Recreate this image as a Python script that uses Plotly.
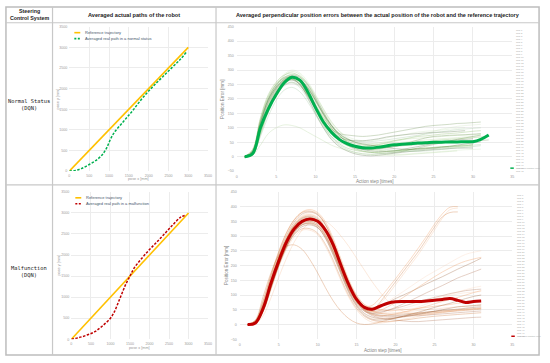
import plotly.graph_objects as go

W, H = 550, 363
def PX(x): return x / W
def PY(y): return 1 - y / H

# ---------------- data ----------------
ref_x = [0, 3000]
ref_y = [0, 3000]

normal_path_x = [0, 150, 300, 500, 700, 850, 950, 1050, 1150, 1300, 1450, 1600, 1800, 2000, 2200, 2400, 2600, 2800, 2950]
normal_path_y = [0, 15, 60, 160, 280, 420, 580, 800, 960, 1130, 1300, 1470, 1720, 1940, 2140, 2330, 2520, 2710, 2880]

malf_path_x = [0, 200, 400, 600, 800, 1000, 1100, 1200, 1300, 1400, 1500, 1600, 1800, 2000, 2200, 2400, 2600, 2800, 2900]
malf_path_y = [0, 40, 100, 180, 320, 500, 650, 870, 1100, 1320, 1500, 1680, 1920, 2130, 2320, 2520, 2720, 2900, 2940]

normal_avg = [0, 10, 100, 165, 215, 255, 275, 265, 225, 170, 120, 85, 60, 45, 36, 31, 30, 33, 37, 41, 43, 45, 47, 48, 50, 50, 51, 51, 52, 52, 60, 75]
malf_avg = [0, 5, 55, 140, 215, 280, 325, 350, 358, 350, 320, 270, 200, 135, 85, 58, 52, 62, 72, 77, 78, 78, 78, 80, 82, 85, 88, 82, 75, 78, 80]

normal_trials = [
    [0,20,110,190,245,280,295,285,250,200,150,110,80,60,50,45,45,48,52,56,60,62,64,66,68,70,72,74,75,76,78],
    [0,5,80,160,220,260,270,255,215,160,110,70,45,30,22,18,15,15,18,20,22,25,28,30,32,34,35,36,38,40],
    [0,15,120,200,250,275,280,260,220,170,125,95,80,75,72,70,72,75,80,85,90,95,100,105,108,110,112,115,116,118,120],
    [0,10,90,170,225,255,265,250,205,150,100,60,35,20,10,5,3,5,8,12,15,18,20,22,25,26,28,30,30,30],
    [0,25,130,210,255,285,300,290,260,215,165,120,90,70,60,55,55,60,65,70,75,80,85,88,90,92,95,98,100],
    [0,8,70,140,195,230,240,225,190,145,100,65,40,25,15,10,8,10,12,15,18,20,22,25,28,30,32,35,38,40,42],
    [0,5,40,80,100,110,108,100,85,70,55,40,30,22,15,10,8,6,5,5,6,8,10,12,14,16,18,20],
    [0,12,100,180,235,265,275,265,230,180,130,90,60,45,38,35,38,42,48,55,60,65,70,72,75,78,80,82,85,88,90],
    [0,18,115,195,240,265,270,250,210,165,120,85,60,45,35,30,28,30,32,35,38,40,42,44,46,48,50,52,54,55,56,58],
    [0,10,95,175,230,262,280,275,250,205,155,110,75,50,35,25,20,18,18,20,25,30,35,40,45,50,55,58,60,62],
    [0,20,125,205,250,270,275,258,222,178,135,100,75,60,52,48,45,45,48,52,58,65,72,80,88,95,100,105,108,110,112],
    [0,6,75,155,210,245,255,240,200,150,105,70,50,40,35,32,30,28,25,22,20,18,18,20,22,25,28,30,32,35,38],
    [0,14,105,185,238,270,285,280,255,212,165,122,88,65,50,42,40,42,45,48,50,52,55,58,60,62,64,66,68,70,72],
    [0,22,135,215,258,282,290,278,245,200,150,108,75,52,38,30,25,22,20,20,22,25,28,30,32,34,36,38,40,42],
    [0,9,85,165,222,258,272,268,240,195,145,100,65,42,28,20,15,12,12,14,18,24,30,36,42,48,54,60,65,70,75],
    [0,16,110,188,236,262,268,252,215,168,122,88,68,58,55,55,58,62,68,72,75,78,80,82,84,85,86,88,90],
    [0,12,98,178,232,266,282,278,252,208,160,115,80,55,40,30,22,15,10,8,8,10,12,14,16,18,20,22,24,25,26],
    [0,20,118,198,246,274,285,272,238,192,145,105,78,62,55,52,52,55,58,62,66,70,74,78,82,86,90,94,96,98,100],
    [0,7,78,158,215,252,268,262,235,190,140,95,60,38,25,18,15,15,16,18,20,22,24,26,28,30,32,34,35,36],
    [0,24,128,206,250,272,276,260,225,180,135,100,72,55,45,40,38,38,40,42,45,48,50,52,55,58,60,62,64,66,68,70],
    [0,12,95,170,218,248,258,245,212,168,122,85,58,40,30,25,24,26,30,35,42,50,58,65,70,72,74,75,76,78,80],
    [0,18,120,198,242,268,278,268,238,195,148,108,80,62,50,44,40,36,32,28,26,25,26,28,30,33,36,40,44,48,52],
]

malf_trials = [
    [0,5,50,130,210,275,320,345,350,340,305,250,185,125,80,55,50,70,100,135,170,205,240,280,320,360,390,395],
    [0,8,60,145,225,290,335,360,365,352,315,258,190,128,85,62,65,90,122,155,190,225,262,300,340,375,398,400],
    [0,3,45,120,200,265,312,338,345,335,300,245,180,120,75,50,48,75,110,145,180,215,250,290,330,365,380,382],
    [0,6,58,140,218,282,328,352,360,350,318,265,198,135,88,60,55,62,75,88,100,112,125,138,150,162,175,188,200,212,225],
    [0,10,70,155,235,300,345,370,380,372,340,285,215,148,98,68,60,65,78,95,112,130,148,165,180,195,210,225,238,245,250],
    [0,4,50,128,205,268,315,340,345,335,300,245,178,115,70,45,38,40,48,58,70,82,95,108,120,132,145,158,168,178,188],
    [0,7,55,138,215,278,322,348,355,345,312,260,195,132,85,55,42,38,38,40,42,45,48,50,52,55,58,60,62,65,68],
    [0,12,78,165,245,310,355,382,390,380,348,292,222,152,100,68,55,50,48,48,50,52,55,58,62,65,68,72,75,78,80],
    [0,5,48,125,202,262,305,325,325,310,272,218,155,98,55,28,15,10,10,12,15,18,22,25,28,30,32,34,36,38,40],
    [0,9,65,148,228,292,338,362,368,358,322,265,195,130,82,52,38,32,30,30,32,35,38,42,45,48,50,52,55,58,60],
    [0,6,52,132,210,272,318,342,348,338,305,252,188,125,78,48,32,25,22,22,25,28,32,36,40,44,48,52,56,60,65],
    [0,11,72,158,238,302,348,375,382,372,338,282,212,145,95,62,48,45,48,55,62,70,78,85,92,98,105,110,115,118,120],
    [0,3,42,118,195,255,298,320,320,305,265,210,148,92,50,22,8,5,8,12,18,22,28,32,36,40,44,48,50,52,55],
    [0,8,62,145,225,288,332,355,360,350,315,258,190,125,78,48,35,30,32,36,42,48,55,62,70,78,85,92,100,108,115],
    [0,15,95,175,235,265,270,255,220,175,125,80,45,20,5,0,2,8,15,22,28,32,35,38,40,42,44,46,48,50,52],
    [0,5,50,130,208,270,315,338,342,330,292,235,170,108,62,32,18,15,18,22,28,35,42,50,58,65,72,80,88,95,100],
    [0,10,68,152,232,296,342,368,375,365,330,272,202,135,85,55,42,40,42,48,55,62,70,78,86,94,102,110,118,125,130],
    [0,7,56,136,214,276,320,344,350,340,306,250,185,122,76,46,30,22,18,15,12,10,10,12,14,16,18,20,22,24,25],
    [0,2,30,90,160,225,280,320,345,355,350,330,300,265,225,185,145,110,80,60,45,38,35,35,38,42,45,48,50,52,55],
    [0,9,66,150,230,294,340,365,372,362,326,268,198,132,84,54,44,48,60,75,92,110,128,145,162,178,192,205,215,222,228],
    [0,13,82,168,248,312,356,380,385,375,340,282,210,142,92,60,45,38,35,35,36,38,40,42,44,46,48,50,52,54,56],
    [0,4,46,124,200,262,308,332,338,328,295,240,175,112,66,38,25,20,20,22,26,30,35,40,45,50,55,60,62,64,66],
    [0,6,54,135,212,275,318,340,344,332,296,240,172,110,64,36,22,18,22,30,40,50,60,70,80,90,98,104,108,110,112],
    [0,9,64,148,226,290,334,358,364,354,320,264,196,130,82,50,34,28,26,26,28,30,30,32,34,36,38,40,42,44,46],
]

n_legend_entries = 48
legend_labels = ["Trial %d" % (i + 1) for i in range(n_legend_entries)]

path_ticks = [0, 500, 1000, 1500, 2000, 2500, 3000, 3500]
err_yticks = [-50, 0, 50, 100, 150, 200, 250, 300, 350, 400, 450]
err_xticks = [0, 5, 10, 15, 20, 25, 30, 35]

# ---------------- figure ----------------
fig = go.Figure()

GREEN_SHADES = ['#A9D18E', '#70AD47', '#548235', '#375623', '#C5E0B4', '#8FBC8F']
RED_SHADES = ['#F4B183', '#ED7D31', '#C55A11', '#843C0C', '#F8CBAD', '#A0522D']

# path charts
fig.add_trace(go.Scatter(x=ref_x, y=ref_y, mode='lines', line=dict(color='#FFC000', width=1.6),
                         xaxis='x', yaxis='y', showlegend=False))
fig.add_trace(go.Scatter(x=normal_path_x, y=normal_path_y, mode='lines', line=dict(color='#00B050', width=1.5, dash='2.5px,1.5px', shape='spline'),
                         xaxis='x', yaxis='y', showlegend=False))
fig.add_trace(go.Scatter(x=ref_x, y=ref_y, mode='lines', line=dict(color='#FFC000', width=1.6),
                         xaxis='x3', yaxis='y3', showlegend=False))
fig.add_trace(go.Scatter(x=malf_path_x, y=malf_path_y, mode='lines', line=dict(color='#C00000', width=1.5, dash='2.5px,1.5px', shape='spline'),
                         xaxis='x3', yaxis='y3', showlegend=False))

# error charts
for i, tr in enumerate(normal_trials):
    fig.add_trace(go.Scatter(x=list(range(1, len(tr) + 1)), y=tr, mode='lines',
                             line=dict(color=GREEN_SHADES[i % 6], width=0.6, shape='spline'), opacity=0.45,
                             xaxis='x2', yaxis='y2', showlegend=False))
fig.add_trace(go.Scatter(x=list(range(1, len(normal_avg) + 1)), y=normal_avg, mode='lines',
                         line=dict(color='#00B050', width=3, shape='spline'),
                         xaxis='x2', yaxis='y2', showlegend=False))
for i, tr in enumerate(malf_trials):
    fig.add_trace(go.Scatter(x=list(range(1, len(tr) + 1)), y=tr, mode='lines',
                             line=dict(color=RED_SHADES[i % 6], width=0.6, shape='spline'), opacity=0.45,
                             xaxis='x4', yaxis='y4', showlegend=False))
fig.add_trace(go.Scatter(x=list(range(1, len(malf_avg) + 1)), y=malf_avg, mode='lines',
                         line=dict(color='#C00000', width=3, shape='spline'),
                         xaxis='x4', yaxis='y4', showlegend=False))

TICKF = dict(family='Liberation Sans', size=3.6, color='#9a9a9a')
GRID = '#ececec'
common = dict(showgrid=True, gridcolor=GRID, gridwidth=0.6, zeroline=False, showline=False,
              tickfont=TICKF, ticks='', fixedrange=True)

fig.update_layout(
    width=W, height=H, margin=dict(l=0, r=0, t=0, b=0),
    paper_bgcolor='white', plot_bgcolor='white', showlegend=False,
    xaxis=dict(domain=[PX(69), PX(209)], range=[0, 3500], tickvals=path_ticks, anchor='y', ticklabelstandoff=1, **common),
    yaxis=dict(domain=[PY(171), PY(25)], range=[0, 3500], tickvals=path_ticks, anchor='x', ticklabelstandoff=1, **common),
    xaxis2=dict(domain=[PX(238), PX(516)], range=[0, 35], tickvals=err_xticks, anchor='y2', ticklabelstandoff=2, **common),
    yaxis2=dict(domain=[PY(171), PY(25)], range=[-50, 450], tickvals=err_yticks, anchor='x2', ticklabelstandoff=2, **common),
    xaxis3=dict(domain=[PX(71), PX(209)], range=[0, 3500], tickvals=path_ticks, anchor='y3', ticklabelstandoff=1, **common),
    yaxis3=dict(domain=[PY(341), PY(192)], range=[0, 3500], tickvals=path_ticks, anchor='x3', ticklabelstandoff=1, **common),
    xaxis4=dict(domain=[PX(241), PX(516)], range=[0, 35], tickvals=err_xticks, anchor='y4', ticklabelstandoff=2, **common),
    yaxis4=dict(domain=[PY(341), PY(192)], range=[-50, 450], tickvals=err_yticks, anchor='x4', ticklabelstandoff=2, **common),
)

shapes = []
BORDER = '#c8c8c8'
def hline(y, x0=5, x1=543, w=1.2):
    shapes.append(dict(type='line', xref='paper', yref='paper', x0=PX(x0), x1=PX(x1), y0=PY(y), y1=PY(y),
                       line=dict(color=BORDER, width=w)))
def vline(x, y0=5, y1=357, w=1.2):
    shapes.append(dict(type='line', xref='paper', yref='paper', x0=PX(x), x1=PX(x), y0=PY(y0), y1=PY(y1),
                       line=dict(color=BORDER, width=w)))
shapes.append(dict(type='rect', xref='paper', yref='paper', x0=PX(5), x1=PX(543), y0=PY(357), y1=PY(5),
                   line=dict(color='#bdbdbd', width=1.5)))
hline(21)
hline(185)
vline(52)
vline(217)

annotations = []
def ann(text, x, y, size, color='#222', family='Liberation Sans', bold=False, angle=0, xanchor='center', yanchor='middle', align='center'):
    if bold:
        text = '<b>' + text + '</b>'
    annotations.append(dict(text=text, x=PX(x), y=PY(y), xref='paper', yref='paper', showarrow=False,
                            font=dict(size=size, color=color, family=family), textangle=angle,
                            xanchor=xanchor, yanchor=yanchor, align=align))

# header
ann('Steering<br>Control System', 28.5, 13, 5.3, bold=True)
ann('Averaged actual paths of the robot', 134.5, 13, 5.6, bold=True)
ann('Averaged perpendicular position errors between the actual position of the robot and the reference trajectory', 380, 13, 5.5, bold=True)
# row labels
ann('Normal Status<br>(DQN)', 28.5, 104, 5.4, family='DejaVu Sans Mono', color='#1a1a1a')
ann('Malfunction<br>(DQN)', 28.5, 272, 5.4, family='DejaVu Sans Mono', color='#1a1a1a')

# axis titles
ann('pose x [mm]', 139, 179, 3.8, color='#9a9a9a')
ann('pose y [mm]', 57, 98, 3.8, color='#9a9a9a', angle=-90)
ann('pose x [mm]', 140, 350, 3.8, color='#9a9a9a')
ann('pose y [mm]', 59, 266, 3.8, color='#9a9a9a', angle=-90)
ann('Action step [times]', 377, 182, 4.6, color='#7f7f7f')
ann('Position Error [mm]', 224, 98, 4.6, color='#7f7f7f', angle=-90)
ann('Action step [times]', 386, 352, 4.6, color='#7f7f7f')
ann('Position Error [mm]', 227, 266, 4.6, color='#7f7f7f', angle=-90)

# path legends
def path_legend(x0, y0, label2, color2):
    shapes.append(dict(type='line', xref='paper', yref='paper', x0=PX(x0), x1=PX(x0 + 6), y0=PY(y0), y1=PY(y0),
                       line=dict(color='#FFC000', width=1.6)))
    shapes.append(dict(type='line', xref='paper', yref='paper', x0=PX(x0), x1=PX(x0 + 6), y0=PY(y0 + 6), y1=PY(y0 + 6),
                       line=dict(color=color2, width=1.6, dash='2px,1.5px')))
    ann('Reference trajectory', x0 + 9, y0, 4.0, color='#44546A', xanchor='left')
    ann(label2, x0 + 9, y0 + 6, 4.0, color='#44546A', xanchor='left')
path_legend(74, 31, 'Averaged real path in a normal status', '#00B050')
path_legend(75, 198, 'Averaged real path in a malfunction', '#C00000')

# error chart legends (tiny list)
def err_legend(x0, ytop, ybot, avg_color):
    txt = '<br>'.join(legend_labels)
    annotations.append(dict(text=txt, x=PX(x0 + 4), y=PY(ytop), xref='paper', yref='paper', showarrow=False,
                            font=dict(size=2.3, color='#a8a8a8', family='Liberation Sans'),
                            xanchor='left', yanchor='top', align='left'))
    shapes.append(dict(type='line', xref='paper', yref='paper', x0=PX(x0), x1=PX(x0 + 3.5), y0=PY(ybot), y1=PY(ybot),
                       line=dict(color=avg_color, width=1.5)))
    ann('Averaged position error', x0 + 4, ybot, 2.3, color='#a8a8a8', xanchor='left')
err_legend(514, 25, 168, '#00B050')
err_legend(515, 192, 338, '#C00000')

fig.update_layout(shapes=shapes, annotations=annotations)
fig.write_html('out.html', config={'displayModeBar': False},
               post_script="document.body.style.margin='0';document.body.style.padding='0';")
